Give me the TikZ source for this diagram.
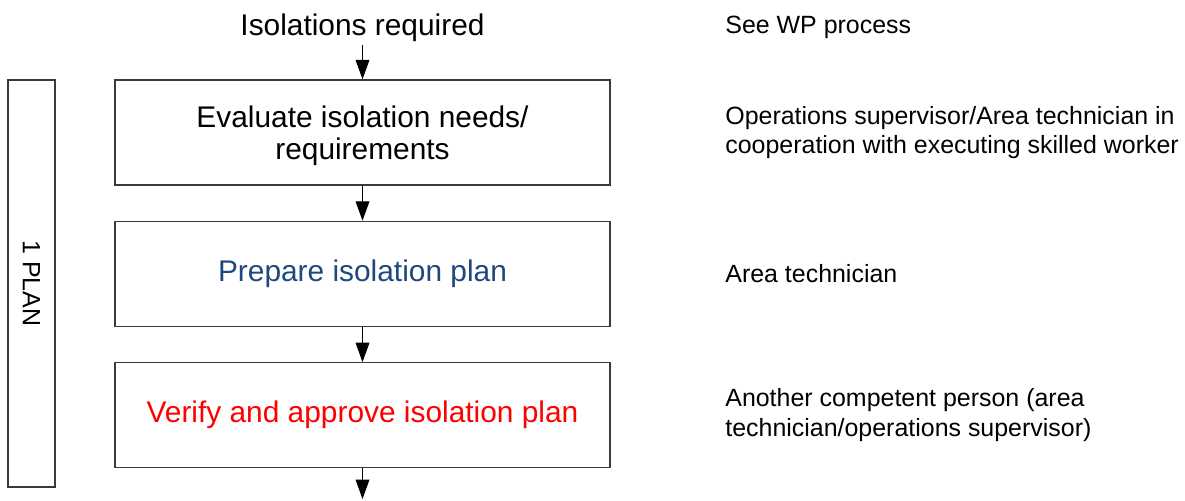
\documentclass[tikz,border=0pt]{standalone}
\usepackage{fontspec}
\setmainfont{Liberation Sans}
\usetikzlibrary{arrows.meta}
\usetikzlibrary{positioning}
\usetikzlibrary{calc}
\usepackage{xcolor}
\definecolor{planblue}{HTML}{1F497D}
\definecolor{framegray}{HTML}{3A3A3A}

\begin{document}
\begin{tikzpicture}[x=0.02cm,y=-0.02cm,
    stepbox/.style={draw=framegray, line width=0.8pt, minimum width=9.9cm,
      minimum height=2.1cm, inner sep=0pt, align=center,
      font=\fontsize{17}{18.2}\selectfont},
    role/.style={anchor=west, align=left, inner sep=0pt,
      font=\fontsize{14.2}{17}\selectfont},
    flow/.style={-{Triangle[length=11pt,width=7.8pt]}, line width=0.6pt}]

        \useasboundingbox (0,0) rectangle (1185,500);

        % Steps
        \node[inner sep=2pt, font=\fontsize{17}{18.5}\selectfont] (req) at (362.5,27.5) {Isolations required};
        \node[stepbox, text depth=0pt] (eval) at (362.5,132.5) {Evaluate isolation needs/\\requirements};
        \node[stepbox, below=0.7cm of eval, text=planblue] (prep) {Prepare isolation plan};
        \node[stepbox, below=0.7cm of prep, text=red] (verify) {Verify and approve isolation plan};
        \coordinate (next) at (362.5,499);

        % Arrows
        \draw[flow] (req) -- (eval);
        \draw[flow] (eval) -- (prep);
        \draw[flow] (prep) -- (verify);
        \draw[flow] (verify) -- (next);

        % Phase bar
        \node[draw=framegray, line width=0.8pt, rotate=-90, minimum width=8.14cm,
          minimum height=0.94cm, inner sep=0pt, font=\fontsize{14.2}{17}\selectfont]
          (phase) at (31.5,283.5) {1 PLAN};

        % Who does it
        \coordinate (rcol) at (725,0);
        \node[role] (seewp) at (req -| rcol) {See WP process};
        \node[role] (evalwho) at (eval -| rcol) {Operations supervisor/Area technician in\\cooperation with executing skilled worker};
        \node[role] (prepwho) at (prep -| rcol) {Area technician};
        \node[role] (verifywho) at (verify -| rcol) {Another competent person (area\\technician/operations supervisor)};
    \end{tikzpicture}
\end{document}
